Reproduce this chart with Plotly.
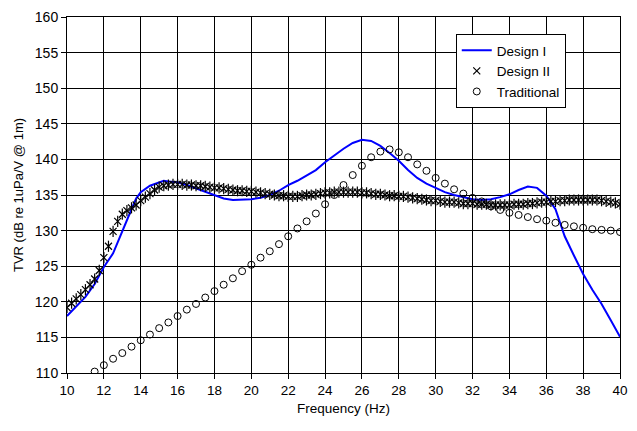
import plotly.graph_objects as go

# Design I (blue line)
d1_freq = [10.0, 10.5, 11.0, 11.5, 12.0, 12.5, 13.0, 13.5, 13.75, 14.0, 14.5, 15.0, 15.25, 15.5,
           16.0, 16.5, 17.0, 17.5, 18.0, 18.5, 19.0, 19.5, 20.0, 20.5, 21.0, 21.5, 22.0, 22.5,
           23.0, 23.5, 24.0, 24.5, 25.0, 25.5, 26.0, 26.5, 27.0, 27.5, 28.0, 28.5, 29.0, 29.5,
           30.0, 30.5, 31.0, 31.5, 32.0, 32.5, 33.0, 33.5, 34.0, 34.5, 35.0, 35.5, 36.0, 36.5,
           37.0, 37.5, 38.0, 38.5, 39.0, 39.5, 40.0]
d1_tvr = [118.0, 119.4, 120.7, 122.5, 124.9, 126.8, 130.0, 133.0, 134.5, 135.4, 136.3, 136.8, 137.0, 136.9,
          136.8, 136.4, 135.9, 135.4, 134.9, 134.5, 134.3, 134.3, 134.4, 134.6, 135.0, 135.6, 136.4, 137.0,
          137.7, 138.5, 139.6, 140.6, 141.5, 142.3, 142.75, 142.6, 141.9, 140.9, 139.8, 138.5, 137.4, 136.6,
          136.0, 135.4, 135.0, 134.7, 134.4, 134.3, 134.4, 134.7, 135.1, 135.7, 136.2, 136.0, 134.9, 133.0,
          129.2, 126.5, 123.9, 121.7, 119.7, 117.4, 115.1]

# Design II (star markers), 0.25 Hz steps from 10 to 40
d2_freq = [10 + 0.25 * i for i in range(121)]
d2_tvr = [119.2, 119.8, 120.4, 121.0, 121.7, 122.4, 123.2, 124.4, 126.2, 127.8, 129.9, 131.3,
          132.3, 132.8, 133.2, 133.6, 134.2, 134.7, 135.2, 135.7, 136.1, 136.3, 136.4, 136.5,
          136.5, 136.5, 136.4, 136.4, 136.3, 136.3, 136.2, 136.1, 136.0, 136.0, 135.9, 135.8,
          135.7, 135.6, 135.6, 135.5, 135.5, 135.4, 135.3, 135.2, 135.1, 135.0, 134.9, 134.9,
          134.8, 134.8, 134.8, 134.9, 135.0, 135.0, 135.1, 135.2, 135.3, 135.3, 135.4, 135.4,
          135.4, 135.4, 135.4, 135.4, 135.3, 135.3, 135.2, 135.1, 135.1, 135.0, 134.9, 134.9,
          134.8, 134.8, 134.7, 134.6, 134.5, 134.4, 134.3, 134.2, 134.2, 134.1, 134.0, 134.0,
          134.0, 133.9, 133.8, 133.8, 133.8, 133.7, 133.7, 133.7, 133.6, 133.6, 133.6, 133.6,
          133.6, 133.7, 133.7, 133.7, 133.8, 133.8, 133.9, 134.0, 134.0, 134.1, 134.1, 134.2,
          134.2, 134.3, 134.3, 134.3, 134.3, 134.3, 134.3, 134.3, 134.2, 134.1, 134.0, 133.9,
          133.7]

# Traditional (open circles), 0.5 Hz steps from 11.5 to 40
tr_freq = [11.5 + 0.5 * i for i in range(58)]
tr_tvr = [110.2, 111.1, 112.0, 112.8, 113.7, 114.6, 115.4, 116.3, 117.1, 118.0, 118.9, 119.7,
          120.6, 121.5, 122.4, 123.3, 124.3, 125.2, 126.2, 127.1, 128.1, 129.2, 130.3, 131.3,
          132.4, 133.7, 135.0, 136.4, 137.8, 139.1, 140.3, 141.1, 141.4, 141.0, 140.3, 139.3,
          138.4, 137.4, 136.6, 135.8, 135.2, 134.6, 134.1, 133.4, 132.9, 132.5, 132.2, 131.9,
          131.6, 131.4, 131.1, 130.8, 130.6, 130.4, 130.2, 130.1, 130.0, 129.8]

x_ticks = list(range(10, 41, 2))
y_ticks = list(range(110, 161, 5))

font = "Liberation Sans, Arial, sans-serif"

fig = go.Figure()
fig.add_trace(go.Scatter(x=d1_freq, y=d1_tvr, mode="lines", name="Design I",
                         line=dict(color="#0000FF", width=2)))
# Excel-style "star" marker: an x with a vertical stroke through it
fig.add_trace(go.Scatter(x=d2_freq, y=d2_tvr, mode="markers", name="Design II",
                         legendgroup="d2",
                         marker=dict(symbol="x-thin-open", size=7, color="black",
                                     line=dict(color="black", width=1.2))))
fig.add_trace(go.Scatter(x=d2_freq, y=d2_tvr, mode="markers", name="Design II",
                         legendgroup="d2", showlegend=False, hoverinfo="skip",
                         marker=dict(symbol="line-ns-open", size=8, color="black",
                                     line=dict(color="black", width=1.2))))
fig.add_trace(go.Scatter(x=tr_freq, y=tr_tvr, mode="markers", name="Traditional",
                         marker=dict(symbol="circle-open", size=7, color="black",
                                     line=dict(color="black", width=1))))

fig.update_layout(
    width=637, height=431,
    margin=dict(l=67, r=9, t=16, b=58),
    paper_bgcolor="white", plot_bgcolor="white",
    font=dict(family=font, size=13, color="black"),
    legend=dict(x=0.703, y=0.952, xanchor="left", yanchor="top",
                bgcolor="white", bordercolor="black", borderwidth=1,
                font=dict(size=13.5), tracegroupgap=0, itemwidth=30),
    showlegend=True,
)
fig.update_xaxes(range=[10, 40], tickvals=x_ticks, ticktext=[str(v) for v in x_ticks],
                 tickfont=dict(size=13.5),
                 showgrid=True, gridcolor="black", gridwidth=1,
                 showline=True, linecolor="black", linewidth=1, mirror=True,
                 ticks="outside", ticklen=5, tickcolor="black", zeroline=False,
                 title=dict(text="Frequency (Hz)", standoff=6, font=dict(size=13.5)))
fig.update_yaxes(range=[110, 160], tickvals=y_ticks, ticktext=[str(v) for v in y_ticks],
                 tickfont=dict(size=14),
                 showgrid=True, gridcolor="black", gridwidth=1,
                 showline=True, linecolor="black", linewidth=1, mirror=True,
                 ticks="outside", ticklen=5, tickcolor="black", zeroline=False,
                 title=dict(text="TVR (dB re 1uPa/V @ 1m)", standoff=8, font=dict(size=13)))

fig.write_html("out.html")
